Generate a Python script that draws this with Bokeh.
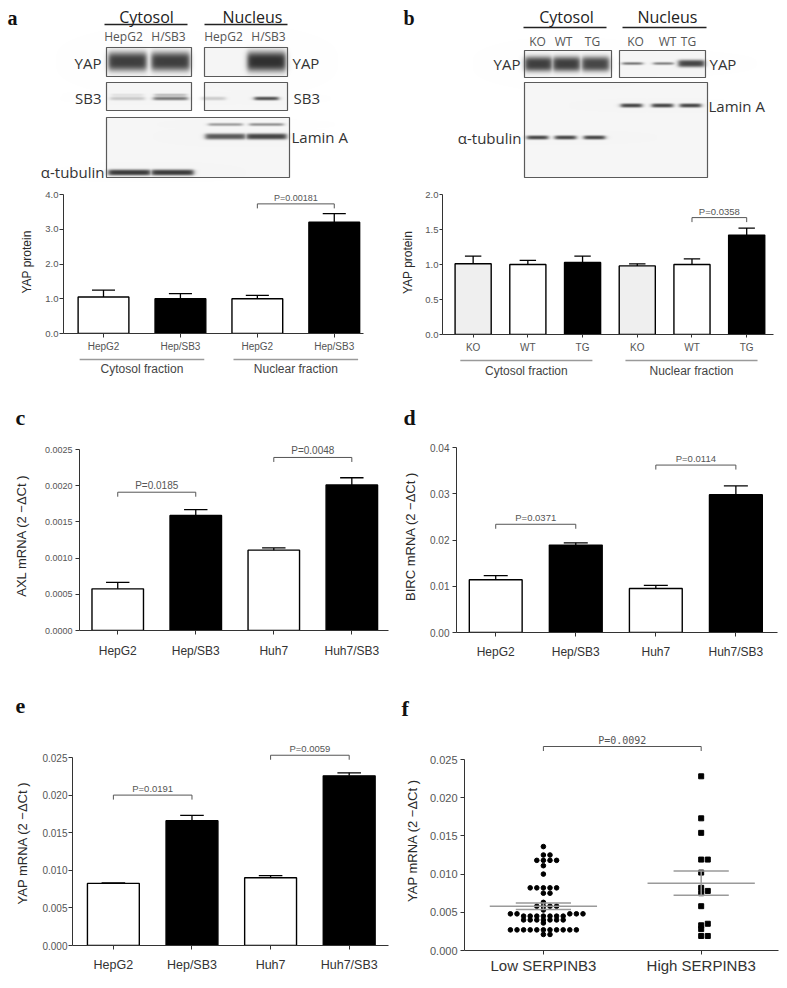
import numpy as np
from bokeh.plotting import figure
from bokeh.models import Range1d, FixedTicker, PrintfTickFormatter
from bokeh.layouts import column, row
from bokeh.embed import file_html
from bokeh.resources import INLINE
from bokeh.core.properties import value

# ---------------- data ----------------
a_labels = ["HepG2", "Hep/SB3", "HepG2", "Hep/SB3"]
a_groups = ["Cytosol fraction", "Nuclear fraction"]
a_mean = [1.05, 1.00, 1.00, 3.20]
a_sem = [0.20, 0.15, 0.10, 0.25]
a_yticks = [0.0, 1.0, 2.0, 3.0, 4.0]
a_pvalues = ["P=0.00181"]

b_labels = ["KO", "WT", "TG", "KO", "WT", "TG"]
b_groups = ["Cytosol fraction", "Nuclear fraction"]
b_mean = [1.01, 1.00, 1.03, 0.98, 1.00, 1.42]
b_sem = [0.11, 0.06, 0.09, 0.03, 0.08, 0.10]
b_yticks = [0.0, 0.5, 1.0, 1.5, 2.0]
b_pvalues = ["P=0.0358"]

cell_labels = ["HepG2", "Hep/SB3", "Huh7", "Huh7/SB3"]
c_mean = [0.000575, 0.00159, 0.00111, 0.00201]
c_sem = [0.00009, 0.00008, 0.00003, 0.00010]
c_yticks = [0.0, 0.0005, 0.0010, 0.0015, 0.0020, 0.0025]
c_pvalues = ["P=0.0185", "P=0.0048"]

d_mean = [0.0114, 0.0189, 0.0095, 0.0298]
d_sem = [0.0009, 0.0005, 0.0007, 0.0019]
d_yticks = [0.0, 0.01, 0.02, 0.03, 0.04]
d_pvalues = ["P=0.0371", "P=0.0114"]

e_mean = [0.00826, 0.0166, 0.0090, 0.02256]
e_sem = [0.00005, 0.0007, 0.0003, 0.0004]
e_yticks = [0.0, 0.005, 0.010, 0.015, 0.020, 0.025]
e_pvalues = ["P=0.0191", "P=0.0059"]

f_groups = ["Low SERPINB3", "High SERPINB3"]
f_low = [0.0136, 0.0125, 0.0125, 0.0118, 0.0118, 0.0118, 0.0118, 0.0111, 0.0100,
         0.0082, 0.0082, 0.0082, 0.0082, 0.0082, 0.0075, 0.0075, 0.0063,
         0.0058, 0.0058, 0.0058, 0.0058, 0.0053,
         0.0048, 0.0048, 0.0048, 0.0048, 0.0048,
         0.0045, 0.0045, 0.0045, 0.0045, 0.0045, 0.0045, 0.0045,
         0.0040, 0.0040, 0.0040, 0.0040, 0.0040, 0.0040, 0.0040,
         0.0036,
         0.0027, 0.0027, 0.0027, 0.0027, 0.0027, 0.0027, 0.0027, 0.0027, 0.0027, 0.0027, 0.0027,
         0.0021, 0.0021]
f_high = [0.0228, 0.0173, 0.0154, 0.0119, 0.0119, 0.0102, 0.0082, 0.0078, 0.0075,
          0.0058, 0.0035, 0.0033, 0.0028, 0.0019, 0.0019]
f_yticks = [0.0, 0.005, 0.010, 0.015, 0.020, 0.025]
f_pvalues = ["P=0.0092"]

# western blot lanes and relative band strengths (0 = none, 1 = saturated)
blot_a_fractions = ["Cytosol", "Nucleus"]
blot_a_lanes = ["HepG2", "H/SB3"]
blot_a_yap_cyt = [0.88, 0.88]
blot_a_yap_nuc = [0.0, 0.95]
blot_a_sb3_cyt = [0.22, 0.6]
blot_a_sb3_nuc = [0.2, 0.8]
blot_a_lamin_nuc = [0.75, 0.85]
blot_a_tubulin_cyt = [0.9, 0.9]

blot_b_fractions = ["Cytosol", "Nucleus"]
blot_b_lanes = ["KO", "WT", "TG"]
blot_b_yap_cyt = [0.88, 0.88, 0.84]
blot_b_yap_nuc = [0.6, 0.55, 0.85]
blot_b_lamin_nuc = [0.85, 0.85, 0.85]
blot_b_tubulin_cyt = [0.85, 0.85, 0.85]

# bracket pairs and levels (annotation placement)
a_pairs, a_levels = [(3, 4)], [3.73]
b_pairs, b_levels = [(5, 6)], [1.67]
c_pairs, c_levels = [(1, 2), (3, 4)], [0.00191, 0.00239]
d_pairs, d_levels = [(1, 2), (3, 4)], [0.0234, 0.0362]
e_pairs, e_levels = [(1, 2), (3, 4)], [0.0200, 0.0253]
f_pairs, f_levels = [(1, 2)], [0.0267]

# ---------------- styles ----------------
SANS = "Liberation Sans"
SERIF = "Liberation Serif"
BLOTF = "Open Sans"
MONO = "DejaVu Sans Mono"
INK = "#333333"
TXT = "#555555"
WB = ["white", "black", "white", "black"]
B_FILLS = ["#efefef", "white", "black", "#efefef", "white", "black"]


def style_axes(p, yticks, fmt, ylabel, xlabels, sty):
    xax = p.xaxis[0]
    yax = p.yaxis[0]
    for ax in (xax, yax):
        ax.axis_line_color = INK
        ax.axis_line_width = 1
        ax.major_tick_line_color = INK
        ax.major_tick_in = 0
        ax.major_tick_out = sty.get("tick", 4)
        ax.minor_tick_line_color = None
        ax.major_label_text_font = SANS
        ax.major_label_text_color = TXT
    yax.ticker = FixedTicker(ticks=yticks)
    yax.formatter = PrintfTickFormatter(format=fmt)
    yax.bounds = (yticks[0], yticks[-1])
    yax.major_label_text_font_size = sty["yt"]
    yax.major_label_standoff = sty["yst"]
    yax.axis_label = ylabel
    yax.axis_label_text_font = SANS
    yax.axis_label_text_font_style = "normal"
    yax.axis_label_text_font_size = sty["yl"]
    yax.axis_label_text_color = "#2a2a2a"
    yax.axis_label_standoff = sty["yls"]
    xt = list(range(1, len(xlabels) + 1))
    xax.ticker = FixedTicker(ticks=xt)
    xax.major_label_overrides = {t: l for t, l in zip(xt, xlabels)}
    xax.major_label_text_font_size = sty["xt"]
    xax.major_label_text_color = sty.get("xc", TXT)
    xax.major_label_standoff = sty["xst"]


def new_fig(W, H, xr, yr, mb, axes=True):
    kw = dict(width=W, height=H, x_range=xr, y_range=yr, output_backend="svg",
              toolbar_location=None, min_border_left=mb[0], min_border_right=mb[1],
              min_border_top=mb[2], min_border_bottom=mb[3])
    if not axes:
        kw.update(x_axis_location=None, y_axis_location=None)
    p = figure(**kw)
    if "frame_align" in p.properties():
        p.frame_align = False
    p.xgrid.visible = False
    p.ygrid.visible = False
    p.outline_line_color = None
    p.background_fill_color = "white"
    p.border_fill_color = "white"
    return p


def brackets(p, pairs, levels, texts, ppu, font, size):
    drop = 4.5 / ppu
    for (i, j), L, t in zip(pairs, levels, texts):
        p.line(x=[i, i, j, j], y=[L - drop, L, L, L - drop], line_color="#555555", line_width=1)
        p.text(x=[(i + j) / 2], y=[L], text=[t], text_align="center", text_baseline="bottom",
               y_offset=-1, text_font=value(font), text_font_size=value(size), text_color=TXT)


def bar_chart(W, H, mb, xr, ppu, labels, mean, sem, fills, yticks, fmt, ylabel,
              pvals, pairs, levels, sty):
    ye = (H - mb[2] - mb[3]) / ppu
    p = new_fig(W, H, Range1d(*xr), Range1d(0, ye), mb)
    style_axes(p, yticks, fmt, ylabel, labels, sty)
    x = list(range(1, len(mean) + 1))
    p.vbar(x=x, top=mean, bottom=0, width=0.66, fill_color=fills, line_color="black", line_width=1.4)
    tops = [m + s for m, s in zip(mean, sem)]
    p.segment(x0=x, y0=mean, x1=x, y1=tops, line_color="black", line_width=1.3)
    p.segment(x0=[v - 0.15 for v in x], x1=[v + 0.15 for v in x], y0=tops, y1=tops,
              line_color="black", line_width=1.3)
    brackets(p, pairs, levels, pvals, ppu, SANS, sty["pv"])
    return p


def strip(W, H, mb, xr):
    frame_w = W - mb[0] - mb[1]
    ppx = (xr[1] - xr[0]) / frame_w
    ext = (xr[0] - mb[0] * ppx, xr[1] + mb[1] * ppx)
    p = new_fig(W, H, Range1d(*ext), Range1d(H, 0), (0, 0, 0, 0), axes=False)
    return p, ext


def letter(p, x, y, s, off, size="22px"):
    p.text(x=[x], y=[y], text=[s], x_offset=off, text_align="left", text_baseline="alphabetic",
           text_font=value(SERIF), text_font_style="bold", text_font_size=value(size),
           text_color="#111111")


def group_marks(p, groups, spans, ext, yline, ytext, size="12px"):
    for g, (s0, s1) in zip(groups, spans):
        p.line(x=[s0 - ext, s1 + ext], y=[yline, yline], line_color="#9a9a9a", line_width=1.5)
        p.text(x=[(s0 + s1) / 2], y=[ytext], text=[g], text_align="center", text_baseline="middle",
               text_font=value(SANS), text_font_size=value(size), text_color="#444444")


# ---------------- blots ----------------
def blot_image(W, H, left, top, boxes, bands):
    X = left + np.arange(W) + 0.5
    Y = top + np.arange(H) + 0.5
    g = np.full((H, W), 255.0)
    for (x0, y0, x1, y1) in boxes:
        inside = ((Y > y0) & (Y < y1))[:, None] & ((X > x0) & (X < x1))[None, :]
        g[inside] = 246.0
    dark = np.zeros((H, W))
    for (cx, hw, yc, hh, k) in bands:
        if k <= 0:
            continue
        fx = 1.0 / (1.0 + np.exp(-(hw - np.abs(X - cx)) / 1.4))
        fy = np.exp(-(np.abs(Y - yc) / hh) ** 3)
        dark = np.maximum(dark, k * fy[:, None] * fx[None, :])
    g = g - dark * (g - 38.0)
    g8 = np.clip(g, 0, 255).astype(np.uint8)
    img = np.empty((H, W), dtype=np.uint32)
    v = img.view(dtype=np.uint8).reshape((H, W, 4))
    v[..., 0] = g8
    v[..., 1] = g8
    v[..., 2] = g8
    v[..., 3] = 255
    return np.ascontiguousarray(img[::-1])


def blot_fig(W, H, left, top, boxes, bands):
    p = new_fig(W, H, Range1d(0, W), Range1d(-H, 0), (0, 0, 0, 0), axes=False)
    p.image_rgba(image=[blot_image(W, H, left, top, boxes, bands)], x=0, y=-H, dw=W, dh=H)
    for (x0, y0, x1, y1) in boxes:
        p.quad(left=[x0 - left], right=[x1 - left], top=[-(y0 - top)], bottom=[-(y1 - top)],
               fill_color=None, line_color="#5a5a5a", line_width=1.2)
    return p


def btxt(p, left, top, x, y, s, align="center", size="15px", color="#333333", font=BLOTF):
    p.text(x=[x - left], y=[-(y - top)], text=[s], text_align=align, text_baseline="middle",
           text_font=value(font), text_font_size=value(size), text_color=color)


def bline(p, left, top, x0, x1, y):
    p.line(x=[x0 - left, x1 - left], y=[-(y - top), -(y - top)], line_color="#222222", line_width=1.3)


LW, RW = 398, 385   # column widths

# blot a
AL, AT, AH = 0, 0, 182
a_cyt_c = [127, 170]
a_nuc_c = [225, 266]
a_boxes = [(106, 47, 191, 76), (204, 47, 287, 76), (106, 82, 191, 110), (204, 82, 287, 110),
           (106, 117, 289, 177)]
a_bands = []
for i in range(2):
    a_bands.append((a_cyt_c[i], 19, 61, 9.5, blot_a_yap_cyt[i]))
    a_bands.append((a_nuc_c[i], 19, 61, 10.0, blot_a_yap_nuc[i]))
    a_bands.append((a_cyt_c[i], 17, 98, 1.8, blot_a_sb3_cyt[i]))
    a_bands.append((a_cyt_c[i], 16, 94.5, 1.3, blot_a_sb3_cyt[i] * 0.5))
    a_bands.append((a_nuc_c[i] + (-12 if i == 0 else 0), 12, 98, 1.8, blot_a_sb3_nuc[i]))
    a_bands.append((a_nuc_c[i], 20, 136, 3.0, blot_a_lamin_nuc[i]))
    a_bands.append((a_nuc_c[i], 17, 124, 1.5, blot_a_lamin_nuc[i] * 0.55))
    a_bands.append((a_cyt_c[i] + 2, 21, 172, 3.0, blot_a_tubulin_cyt[i]))
blot_a = blot_fig(LW, AH, AL, AT, a_boxes, a_bands)
letter(blot_a, 0, -17, "a", 7, "20px")
for name, cx, (u0, u1) in zip(blot_a_fractions, [146, 252], [(104, 187), (204, 287)]):
    btxt(blot_a, AL, AT, cx, 16, name, size="16px", color="#222222")
    bline(blot_a, AL, AT, u0, u1, 24)
for lab, cx in zip(blot_a_lanes + blot_a_lanes, [123, 168, 223, 268]):
    btxt(blot_a, AL, AT, cx, 36, lab, size="12px", color="#555555")
btxt(blot_a, AL, AT, 101, 62, "YAP", align="right")
btxt(blot_a, AL, AT, 101, 97, "SB3", align="right")
btxt(blot_a, AL, AT, 292, 62, "YAP", align="left")
btxt(blot_a, AL, AT, 293, 97, "SB3", align="left")
btxt(blot_a, AL, AT, 291, 136, "Lamin A", align="left")
btxt(blot_a, AL, AT, 104, 171, "\u03b1-tubulin", align="right")

# blot b
BL, BT, BH = LW, 0, 182
b_cyt_c = [538, 566, 595]
b_nuc_c = [632, 663, 691]
b_boxes = [(524, 50, 611, 77), (619, 50, 705, 77), (524, 82, 707, 177)]
b_bands = []
for i in range(3):
    b_bands.append((b_cyt_c[i], 13.5, 63.5, 7.5, blot_b_yap_cyt[i]))
    k = blot_b_yap_nuc[i]
    b_bands.append((b_nuc_c[i], 10 + 3 * max(k - 0.6, 0) * 4, 63, 1.4 + 9 * max(k - 0.6, 0), k))
    b_bands.append((b_nuc_c[i] - 1, 10.5, 105, 2.0, blot_b_lamin_nuc[i]))
    b_bands.append((b_cyt_c[i] - 1, 10.5, 137, 2.0, blot_b_tubulin_cyt[i]))
blot_b = blot_fig(RW, BH, BL, BT, b_boxes, b_bands)
letter(blot_b, 0, -17, "b", 5, "20px")
for name, cx, (u0, u1) in zip(blot_b_fractions, [566, 667], [(523, 606), (622, 706)]):
    btxt(blot_b, BL, BT, cx, 16, name, size="16px", color="#222222")
    bline(blot_b, BL, BT, u0, u1, 27)
for lab, cx in zip(blot_b_lanes + blot_b_lanes, [537, 563, 592, 635, 667, 688]):
    btxt(blot_b, BL, BT, cx, 41, lab, size="12px", color="#555555")
btxt(blot_b, BL, BT, 520, 63, "YAP", align="right")
btxt(blot_b, BL, BT, 709, 63, "YAP", align="left")
btxt(blot_b, BL, BT, 708, 105, "Lamin A", align="left")
btxt(blot_b, BL, BT, 521, 137, "\u03b1-tubulin", align="right")

# ---------------- bar charts ----------------
sty_a = dict(yt="9.5px", yst=1, yl="12px", yls=8, xt="10px", xst=3, pv="9px")
sty_b = dict(yt="9.5px", yst=1, yl="12px", yls=7, xt="10px", xst=4, pv="9.5px", tick=3)
sty_c = dict(yt="9px", yst=3, yl="13px", yls=13, xt="12px", xst=9, pv="10px", xc="#333333")
sty_d = dict(yt="10px", yst=3, yl="13px", yls=9, xt="12px", xst=8, pv="9.5px", xc="#333333")
sty_e = dict(yt="10px", yst=1, yl="13px", yls=9, xt="12.5px", xst=8, pv="9.5px", xc="#333333")
sty_f = dict(yt="11px", yst=3, yl="13px", yls=7, xt="15px", xst=2, pv="10px", xc="#333333")

# panel a
mb_a, xr_a = (63, 35, 8, 24), (0.48, 4.38)
bar_a = bar_chart(LW, 175, mb_a, xr_a, 34.75, a_labels, a_mean, a_sem, WB, a_yticks, "%.1f",
                  "YAP protein", a_pvalues, a_pairs, a_levels, sty_a)
strip_a, ext_a = strip(LW, 75, mb_a, xr_a)
group_marks(strip_a, a_groups, [(1, 2), (3, 4)], 0.31, 2, 11)
letter(strip_a, ext_a[0], 60, "c", 15)

# panel b
mb_b, xr_b = (42, 10, 8, 23), (0.44, 6.49)
bar_b = bar_chart(RW, 175, mb_b, xr_b, 70.0, b_labels, b_mean, b_sem, B_FILLS, b_yticks, "%.1f",
                  "YAP protein", b_pvalues, b_pairs, b_levels, sty_b)
strip_b, ext_b = strip(RW, 75, mb_b, xr_b)
group_marks(strip_b, b_groups, [(1, 3), (4, 6)], 0.2, 3, 13)
letter(strip_b, ext_b[0], 60, "d", 5)

# panel c
mb_c, xr_c = (79, 10, 8, 34), (0.51, 4.47)
chart_c = bar_chart(LW, 232, mb_c, xr_c, 72400.0, cell_labels, c_mean, c_sem, WB, c_yticks, "%.4f",
                    "AXL mRNA (2 \u2212\u0394Ct )", c_pvalues, c_pairs, c_levels, sty_c)
strip_c, ext_c = strip(LW, 68, mb_c, xr_c)
letter(strip_c, ext_c[0], 41, "e", 15)

# panel d
mb_d, xr_d = (58, 6, 8, 32), (0.51, 4.52)
chart_d = bar_chart(RW, 232, mb_d, xr_d, 4625.0, cell_labels, d_mean, d_sem, WB, d_yticks, "%.2f",
                    "BIRC mRNA (2 \u2212\u0394Ct )", d_pvalues, d_pairs, d_levels, sty_d)
strip_d, ext_d = strip(RW, 58, mb_d, xr_d)
letter(strip_d, ext_d[0], 44, "f", 3)

# panel e
mb_e, xr_e = (72, 10, 8, 39), (0.48, 4.5)
chart_e = bar_chart(LW, 252, mb_e, xr_e, 7520.0, cell_labels, e_mean, e_sem, WB, e_yticks, "%.3f",
                    "YAP mRNA (2 \u2212\u0394Ct )", e_pvalues, e_pairs, e_levels, sty_e)

# panel f
mb_f, xr_f = (66, 5, 8, 34), (0.5, 2.49)
FH, F_PPU = 262, 7640.0
f_ye = (FH - mb_f[2] - mb_f[3]) / F_PPU
chart_f = new_fig(RW, FH, Range1d(*xr_f), Range1d(0, f_ye), mb_f)
style_axes(chart_f, f_yticks, "%.3f", "YAP mRNA (2 \u2212\u0394Ct )", f_groups, sty_f)
x_ppu = (RW - mb_f[0] - mb_f[1]) / (xr_f[1] - xr_f[0])


def beeswarm(vals, step_px, dy_px):
    order = sorted(range(len(vals)), key=lambda i: vals[i])
    placed = []
    offs = [0.0] * len(vals)
    cands = [0] + [s * j for j in range(1, 40) for s in (1, -1)]
    for i in order:
        y = vals[i] * F_PPU
        for c in cands:
            ox = c * step_px
            if all(not (abs(ox - px) < step_px * 0.9 and abs(y - py) < dy_px) for px, py in placed):
                break
        placed.append((ox, y))
        offs[i] = ox / x_ppu
    return offs


for gi, (vals, marker, size) in enumerate([(f_low, "circle", 4.6), (f_high, "square", 5.0)]):
    cx = gi + 1
    offs = beeswarm(vals, 6.6, 3.0)
    chart_f.scatter(x=[cx + o for o in offs], y=vals, marker=marker, size=size,
                    fill_color="black", line_color="black")
    m = float(np.mean(vals))
    se = float(np.std(vals, ddof=1) / np.sqrt(len(vals)))
    chart_f.segment(x0=[cx - 0.34, cx - 0.175, cx - 0.175, cx], x1=[cx + 0.34, cx + 0.175, cx + 0.175, cx],
                    y0=[m, m + se, m - se, m - se], y1=[m, m + se, m - se, m + se],
                    line_color="#9a9a9a", line_width=1.5)
brackets(chart_f, f_pairs, f_levels, f_pvalues, F_PPU, MONO, "10px")

left = column(blot_a, bar_a, strip_a, chart_c, strip_c, chart_e)
right = column(blot_b, bar_b, strip_b, chart_d, strip_d, chart_f)
root = row(left, right)

open("out.html", "w").write(file_html(root, INLINE, "Figure"))
